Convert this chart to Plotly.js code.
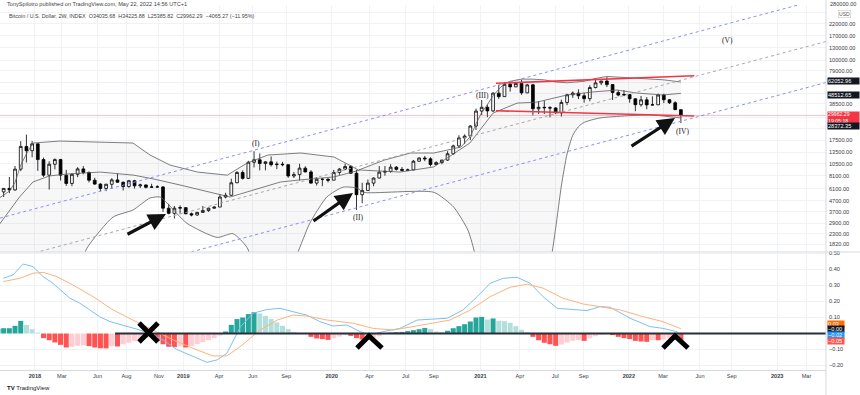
<!DOCTYPE html>
<html><head><meta charset="utf-8">
<script src="https://cdn.plot.ly/plotly-3.0.1.min.js"></script>
<style>html,body{margin:0;padding:0;background:#fff}#chart{width:860px;height:395px}</style>
</head><body><div id="chart"></div>
<script>
// ---------- DATA ----------
const dates=['2017-10-02','2017-10-16','2017-10-30','2017-11-13','2017-11-27','2017-12-11','2017-12-25',
'2018-01-08','2018-01-22','2018-02-05','2018-02-19','2018-03-05','2018-03-19','2018-04-02','2018-04-16','2018-04-30','2018-05-14','2018-05-28','2018-06-11','2018-06-25','2018-07-09','2018-07-23','2018-08-06','2018-08-20','2018-09-03','2018-09-17','2018-10-01','2018-10-15','2018-10-29','2018-11-12','2018-11-26','2018-12-10','2018-12-24',
'2019-01-07','2019-01-21','2019-02-04','2019-02-18','2019-03-04','2019-03-18','2019-04-01','2019-04-15','2019-04-29','2019-05-13','2019-05-27','2019-06-10','2019-06-24','2019-07-08','2019-07-22','2019-08-05','2019-08-19','2019-09-02','2019-09-16','2019-09-30','2019-10-14','2019-10-28','2019-11-11','2019-11-25','2019-12-09','2019-12-23',
'2020-01-06','2020-01-20','2020-02-03','2020-02-17','2020-03-02','2020-03-16','2020-03-30','2020-04-13','2020-04-27','2020-05-11','2020-05-25','2020-06-08','2020-06-22','2020-07-06','2020-07-20','2020-08-03','2020-08-17','2020-08-31','2020-09-14','2020-09-28','2020-10-12','2020-10-26','2020-11-09','2020-11-23','2020-12-07','2020-12-21',
'2021-01-04','2021-01-18','2021-02-01','2021-02-15','2021-03-01','2021-03-15','2021-03-29','2021-04-12','2021-04-26','2021-05-10','2021-05-24','2021-06-07','2021-06-21','2021-07-05','2021-07-19','2021-08-02','2021-08-16','2021-08-30','2021-09-13','2021-09-27','2021-10-11','2021-10-25','2021-11-08','2021-11-22','2021-12-06','2021-12-20',
'2022-01-03','2022-01-17','2022-01-31','2022-02-14','2022-02-28','2022-03-14','2022-03-28','2022-04-11','2022-04-25','2022-05-09'];
const open=[4400,5700,6150,5950,9350,15300,13950,16200,11500,8200,10400,11500,8200,6850,8350,9400,8700,7350,6750,6150,6730,7400,7030,6400,7270,6500,6630,6300,6350,6350,4000,3580,4000,4050,3550,3450,3650,3800,4000,4100,5100,5300,6950,8700,7650,10850,11450,10550,10950,10300,10400,10300,8050,8300,9550,8800,6900,7500,7500,7350,8700,9350,9900,8550,5360,5880,6900,7700,8750,8900,9750,9300,9100,9200,11100,11900,11700,10330,10780,11380,13050,15480,18400,19150,23850,33000,35800,33100,48700,45150,59000,55800,60000,49000,58300,34700,35800,35500,35300,31800,39800,47000,48800,46000,43200,55000,60900,63300,58600,49400,46700,47300,43100,37900,42100,37700,37800,46800,42200,39500,34035.68];
const high=[5850,6200,7890,10000,17170,19800,17250,16300,12000,11100,11800,11700,9200,8500,9750,9980,8880,7750,6900,6800,7680,8500,7150,7400,7410,6820,6700,6800,6580,6480,4400,4200,4250,4100,3640,3700,4200,4050,4150,5450,5600,7600,8950,9100,11200,13800,13150,11100,12300,11000,10950,10350,8800,10500,9950,9150,7850,7700,7700,9200,9600,10500,10200,9200,6950,7470,7800,10000,10000,10400,10000,9780,9470,11400,12100,12450,12100,11100,11450,13800,15900,19500,19900,24300,34800,41950,38000,49700,58400,61800,60700,61200,64900,59600,59600,40900,41300,36700,35900,42300,48100,50500,52900,48800,57800,67000,63700,69000,59300,51900,52100,47600,43500,45800,44700,45400,48200,48200,42900,40800,34225.88];
const low=[4150,5100,5550,5850,8950,10800,12100,9000,7900,6000,9300,7300,6500,6450,7850,8350,7000,6650,5800,5800,6070,6950,5880,6250,6120,6200,6150,6250,6250,3700,3500,3200,3550,3500,3350,3400,3650,3700,3950,4100,4950,5250,6900,7450,7550,9700,9100,9100,9900,9350,9950,7750,7700,7300,8700,6800,6550,6450,7000,7350,8250,9150,8450,3850,4450,5870,6450,7650,8100,8650,9050,8900,9050,9150,11000,11100,9900,10200,10400,11200,12800,14800,16200,17600,21900,30300,28900,32300,43000,45000,50400,55500,47000,48700,30000,31000,31000,28800,31000,29300,37500,44000,42800,39600,40800,54000,58000,55600,42000,45500,45600,39600,32900,36300,34300,37200,37600,39200,38500,33700,25385.82];
const close=[5700,6150,5950,9350,15300,13950,16200,11500,8200,10400,11500,8200,6850,8350,9400,8700,7350,6750,6150,6730,7400,7030,6400,7270,6500,6630,6300,6350,6350,4000,3580,4000,4050,3550,3450,3650,3800,4000,4100,5100,5300,6950,8700,7650,10850,11450,10550,10950,10300,10400,10300,8050,8300,9550,8800,6900,7500,7500,7350,8700,9350,9900,8550,5360,5880,6900,7700,8750,8900,9750,9300,9100,9200,11100,11900,11700,10330,10780,11380,13050,15480,18400,19150,23850,33000,35800,33100,48700,45150,59000,55800,60000,49000,58300,34700,35800,35500,35300,31800,39800,47000,48800,46000,43200,55000,60900,63300,58600,49400,46700,47300,43100,37900,42100,37700,37800,46800,42200,39500,34027.56,29962.29];

// Bollinger-style bands
const upperDates=['2017-10-02','2017-10-30','2017-11-13','2017-11-27','2017-12-11','2017-12-27','2018-03-03','2018-06-11','2018-08-30','2018-10-11','2018-11-29','2019-02-05','2019-04-19','2019-06-07','2019-07-28','2019-10-17','2020-01-07','2020-03-07','2020-05-10','2020-07-13','2020-09-08','2020-11-14','2020-12-07','2020-12-21','2021-01-04','2021-01-18','2021-02-01','2021-02-15','2021-03-01','2021-03-15','2021-04-12','2021-05-10','2021-06-07','2021-07-05','2021-08-02','2021-09-13','2021-10-11','2021-11-08','2021-12-06','2022-01-03','2022-02-14','2022-03-28','2022-05-09'];
const upperVals=[4900,5800,7000,10200,13000,16480,17200,16820,16480,12700,10220,8770,8200,10670,12700,13270,12160,9170,11390,13270,13270,15100,19000,25000,32000,38000,46000,53000,60000,63000,66000,66000,65000,62000,61000,63000,67000,70000,69000,68000,66000,65000,62052.96];
const middleDates=['2017-10-02','2017-11-24','2017-12-27','2018-02-05','2018-03-19','2018-06-11','2018-09-01','2018-10-21','2018-12-24','2019-03-17','2019-04-26','2019-06-07','2019-08-28','2019-10-13','2020-01-07','2020-03-11','2020-06-17','2020-09-08','2020-12-06','2021-02-01','2021-04-01','2021-05-20','2021-08-02','2021-10-05','2021-12-03','2022-01-21','2022-03-26','2022-05-09'];
const middleVals=[2700,5100,7070,8050,8400,8770,8200,7530,6620,5580,5100,5700,7070,7380,7900,9170,8770,9800,16500,31600,39200,40100,46800,50000,52100,48800,46800,48512.65];
const lowerDates=['2017-10-02','2018-04-10','2018-05-09','2018-07-12','2018-08-30','2018-10-11','2018-11-05','2018-11-22','2019-01-10','2019-03-25','2019-05-03','2019-06-07','2019-07-01','2019-08-15','2019-10-07','2019-11-08','2019-12-20','2020-01-29','2020-03-04','2020-03-19','2020-09-08','2020-10-27','2020-12-01','2020-12-16','2021-01-10','2021-05-20','2021-06-21','2021-07-05','2021-07-19','2021-08-02','2021-08-16','2021-08-30','2021-09-13','2021-10-22','2022-02-22','2022-05-09'];
const lowerVals=[300,900,1683,3300,3845,4990,5100,4470,2880,2120,2300,1700,900,600,1455,2880,5100,6320,6180,5650,5650,4100,2490,1610,600,600,1200,2600,6500,13000,19500,23500,25800,28400,30300,28372.35];

// MACD pane
const hist=[0.03,0.033,0.033,0.048,0.079,0.054,0.027,0.006,-0.029,-0.042,-0.056,-0.071,-0.0875,-0.083,-0.077,-0.075,-0.079,-0.0875,-0.092,-0.093,-0.079,-0.081,-0.067,-0.058,-0.048,-0.038,-0.029,-0.021,-0.046,-0.067,-0.083,-0.085,-0.081,-0.0875,-0.079,-0.067,-0.054,-0.042,-0.029,-0.0125,0.0125,0.054,0.09,0.1,0.121,0.133,0.125,0.11,0.09,0.069,0.048,0.027,0.01,0.002,-0.003,-0.021,-0.031,-0.035,-0.04,-0.029,-0.019,-0.008,-0.015,-0.029,-0.0375,-0.033,-0.025,-0.017,-0.004,0.006,0.008,0.01,0.015,0.021,0.027,0.035,0.027,0.0125,0.008,0.017,0.033,0.046,0.058,0.075,0.1,0.104,0.0875,0.094,0.079,0.077,0.067,0.046,0.023,0.008,-0.021,-0.042,-0.058,-0.067,-0.077,-0.069,-0.056,-0.046,-0.042,-0.046,-0.029,-0.017,-0.006,-0.002,-0.01,-0.021,-0.029,-0.035,-0.046,-0.05,-0.052,-0.042,-0.042,-0.0375,-0.031,-0.0375,-0.05];
const macdDates=['2017-10-15','2017-11-08','2017-12-03','2017-12-27','2018-01-21','2018-02-14','2018-03-28','2018-04-21','2018-05-16','2018-06-09','2018-07-05','2018-08-06','2018-09-16','2018-10-11','2018-11-12','2018-12-16','2019-01-25','2019-02-28','2019-03-25','2019-04-18','2019-05-21','2019-06-21','2019-07-26','2019-08-27','2019-09-28','2019-11-01','2019-12-03','2020-01-04','2020-02-08','2020-03-11','2020-04-04','2020-05-06','2020-06-17','2020-07-29','2020-08-30','2020-10-11','2020-11-19','2020-12-24','2021-01-25','2021-02-26','2021-04-01','2021-05-03','2021-06-04','2021-07-09','2021-08-10','2021-09-20','2021-10-22','2021-11-16','2022-01-04','2022-02-22','2022-03-26','2022-04-30','2022-05-09'];
const macdVals=[0.345,0.366,0.434,0.418,0.355,0.314,0.22,0.19,0.147,0.105,0.074,0.053,0.022,0.0,-0.04,-0.10,-0.145,-0.18,-0.165,-0.124,0.04,0.126,0.15,0.157,0.136,0.115,0.074,0.047,0.053,0.011,-0.01,0.011,0.032,0.084,0.089,0.095,0.147,0.23,0.314,0.345,0.351,0.314,0.23,0.157,0.151,0.143,0.168,0.164,0.095,0.043,0.032,0.011,-0.02];
const signalDates=['2017-10-15','2017-11-25','2017-12-27','2018-01-21','2018-02-24','2018-04-04','2018-05-24','2018-07-12','2018-08-30','2018-10-18','2018-12-07','2019-01-25','2019-03-15','2019-04-18','2019-05-21','2019-07-09','2019-08-20','2019-09-28','2019-11-01','2019-12-21','2020-02-23','2020-04-12','2020-05-31','2020-07-19','2020-08-30','2020-10-18','2020-12-07','2021-01-25','2021-03-15','2021-04-26','2021-06-04','2021-07-23','2021-09-11','2021-10-22','2021-12-11','2022-02-05','2022-03-26','2022-05-09'];
const signalVals=[0.324,0.345,0.376,0.382,0.355,0.303,0.23,0.147,0.084,0.022,-0.04,-0.093,-0.14,-0.14,-0.082,0.022,0.084,0.115,0.109,0.084,0.064,0.032,0.022,0.043,0.064,0.084,0.147,0.23,0.289,0.308,0.283,0.22,0.184,0.168,0.147,0.105,0.074,0.03];

// Drawings
const channelDates=['2017-10-07','2023-05-01'];
const channelUpper=[3228,388700];
const channelMid=[1242,149500];
const channelLower=[511,61340];
const boxDates=['2021-02-08','2022-06-11'];
const boxTop=[60300,71100];
const boxBottom=[33260,29650];
const zeroLineDates=['2018-07-17','2023-05-01'];
const lastPrice=29962.29;

const xTickVals=['2018-01-01','2018-03-08','2018-06-04','2018-08-14','2018-11-02','2019-01-01','2019-03-30','2019-06-21','2019-09-11','2020-01-01','2020-04-03','2020-07-01','2020-09-08','2021-01-01','2021-04-08','2021-07-04','2021-09-12','2022-01-01','2022-03-26','2022-06-25','2022-09-11','2023-01-01','2023-03-14'];
const xTickText=['<b>2018</b>','Mar','Jun','Aug','Nov','<b>2019</b>','Apr','Jun','Sep','<b>2020</b>','Apr','Jul','Sep','<b>2021</b>','Apr','Jul','Sep','<b>2022</b>','Mar','Jun','Sep','<b>2023</b>','Mar'];
const yTickVals=[1820,2300,2900,3700,4700,6100,8100,10500,13500,17500,22500,29000,38500,48500,62000,79000,100000,130000,170000,220000,280000];
const yTickShown=[1820,2300,2900,3700,4700,6100,8100,10500,13500,17500,38500,79000,100000,130000,170000,220000];
const macdTickVals=[-0.2,-0.1,0.1,0.2,0.3,0.4,0.5];

// ---------- HELPERS ----------
const PW=826, PB=370, PH=365;
const px=x=>x/PW, py=y=>(PB-y)/PH;
const FONT='Liberation Sans, Arial, sans-serif';

const histColors=hist.map((v,i)=>{const p=i?hist[i-1]:0;
  if(v>=0) return v>=p?'#26a69a':'#b2dfdb';
  return v<=p?'#ff5252':'#ffcdd2';});

const traces=[
 {x:upperDates,y:upperVals,type:'scatter',mode:'lines',line:{color:'#5d5d5d',width:0.8},hoverinfo:'skip',xaxis:'x',yaxis:'y'},
 {x:lowerDates,y:lowerVals,type:'scatter',mode:'lines',line:{color:'#5d5d5d',width:0.8,shape:'spline',smoothing:0.6},fill:'tonexty',fillcolor:'rgba(0,0,0,0.03)',hoverinfo:'skip',xaxis:'x',yaxis:'y'},
 {x:middleDates,y:middleVals,type:'scatter',mode:'lines',line:{color:'#5d5d5d',width:0.8},hoverinfo:'skip',xaxis:'x',yaxis:'y'},
 {x:channelDates,y:channelUpper,type:'scatter',mode:'lines',line:{color:'#8c8ff0',width:1,dash:'dot'},hoverinfo:'skip',yaxis:'y'},
 {x:channelDates,y:channelMid,type:'scatter',mode:'lines',line:{color:'#a8a8a8',width:1,dash:'dot'},hoverinfo:'skip',yaxis:'y'},
 {x:channelDates,y:channelLower,type:'scatter',mode:'lines',line:{color:'#8c8ff0',width:1,dash:'dot'},hoverinfo:'skip',yaxis:'y'},
 {x:[channelDates[0],channelDates[1]],y:[lastPrice,lastPrice],type:'scatter',mode:'lines',line:{color:'rgba(242,54,69,0.3)',width:1},hoverinfo:'skip',yaxis:'y'},
 {x:boxDates,y:boxTop,type:'scatter',mode:'lines',line:{color:'#f23645',width:1.6},hoverinfo:'skip',yaxis:'y'},
 {x:boxDates,y:boxBottom,type:'scatter',mode:'lines',line:{color:'#f23645',width:1.6},hoverinfo:'skip',yaxis:'y'},
 {x:dates,open:open,high:high,low:low,close:close,type:'candlestick',xaxis:'x',yaxis:'y',whiskerwidth:0,
  increasing:{line:{color:'#000',width:0.8},fillcolor:'#fff'},decreasing:{line:{color:'#000',width:0.8},fillcolor:'#000'},hoverinfo:'skip'},
 {x:dates,y:hist,type:'bar',marker:{color:histColors,line:{width:0}},xaxis:'x',yaxis:'y2',hoverinfo:'skip'},
 {x:macdDates,y:macdVals,type:'scatter',mode:'lines',line:{color:'#7cc0f5',width:1},xaxis:'x',yaxis:'y2',hoverinfo:'skip'},
 {x:signalDates,y:signalVals,type:'scatter',mode:'lines',line:{color:'#ffb27a',width:1},xaxis:'x',yaxis:'y2',hoverinfo:'skip'},
 {x:zeroLineDates,y:[0,0],type:'scatter',mode:'lines',line:{color:'#2a2e39',width:2},xaxis:'x',yaxis:'y2',hoverinfo:'skip'}
];

const tf={family:FONT,size:5.6,color:'#3a3e48'};
function box(text,yPix,bg,h,w,size){return {xref:'paper',yref:'paper',x:1,y:py(yPix),xanchor:'left',yanchor:'middle',text:text,showarrow:false,
  font:{family:FONT,size:size||5.6,color:'#fff'},bgcolor:bg,borderpad:0,height:h||6,width:w||31,align:'left',xshift:0.5};}
function lbl(text,xp,yp,size){return {xref:'paper',yref:'paper',x:px(xp),y:py(yp),text:text,showarrow:false,xanchor:'center',yanchor:'middle',
  font:{family:'Liberation Serif, DejaVu Serif, serif',size:size||7.5,color:'#222'}};}
function arrow(hx,hy,tx,ty){return {xref:'paper',yref:'paper',x:px(hx),y:py(hy),ax:tx-hx,ay:ty-hy,axref:'pixel',ayref:'pixel',showarrow:true,
  arrowhead:2,arrowsize:1.1,arrowwidth:3.2,arrowcolor:'#111',text:''};}

const annotations=[
 {xref:'paper',yref:'paper',x:px(5),y:py(4.5),xanchor:'left',yanchor:'middle',showarrow:false,text:'TonySpilotro published on TradingView.com, May 22, 2022 14:56 UTC+1',font:{family:FONT,size:5.6,color:'#444'}},
 {xref:'paper',yref:'paper',x:px(7),y:py(16),xanchor:'left',yanchor:'middle',showarrow:false,text:'Bitcoin / U.S. Dollar, 2W, INDEX  O34035.68  H34225.88  L25385.82  C29962.29  −4065.27 (−11.95%)',font:{family:FONT,size:5.4,color:'#444'}},
 {xref:'paper',yref:'paper',x:px(5),y:py(388),xanchor:'left',yanchor:'middle',showarrow:false,text:'<b>TV</b> TradingView',font:{family:FONT,size:6,color:'#131722'}},
 {xref:'paper',yref:'paper',x:1,y:py(4),xanchor:'left',yanchor:'middle',showarrow:false,text:'280000.00',font:tf,xshift:2},
 {xref:'paper',yref:'paper',x:px(838),y:py(14),xanchor:'left',yanchor:'middle',showarrow:false,text:'USD',font:{family:FONT,size:5,color:'#555'},bgcolor:'#fff',bordercolor:'#c8c8c8',borderwidth:0.6,borderpad:0.5},
 box('62052.96',80.5,'#131722'),
 box('48512.65',94.5,'#131722'),
 box('29962.29<br>19:05:18',117.2,'#f23645',11,31,5.2),
 box('28372.35',126,'#131722'),
 box('0.03',323.5,'#ff6d00',5.6,16),
 box('−0.00',329.3,'#131722',5.6,16),
 box('−0.02',335.1,'#2196f3',5.6,16),
 box('−0.05',340.9,'#ff5252',5.6,16),
 lbl('(I)',256,143),lbl('(II)',358,217),lbl('(III)',482,95),lbl('(IV)',682,131),lbl('(V)',727,40),
 arrow(166,214,126,235),arrow(353,193,312,222),arrow(675,118,630,147)
];

const shapes=[
 {type:'line',xref:'paper',yref:'paper',x0:0,x1:860/PW,y0:py(252),y1:py(252),line:{color:'#d6d9e0',width:1}},
 {type:'line',xref:'paper',yref:'paper',x0:1,x1:1,y0:py(395),y1:py(0),line:{color:'#d6d9e0',width:1}},
 {type:'path',xref:'paper',yref:'paper',path:`M${px(139)},${py(323)} L${px(158)},${py(342)} M${px(139)},${py(342)} L${px(158)},${py(323)}`,line:{color:'#000',width:5}},
 {type:'path',xref:'paper',yref:'paper',path:`M${px(357)},${py(348)} L${px(369)},${py(336)} L${px(382)},${py(348)}`,line:{color:'#000',width:5}},
 {type:'path',xref:'paper',yref:'paper',path:`M${px(663)},${py(348)} L${px(675)},${py(336)} L${px(688)},${py(348)}`,line:{color:'#000',width:5}}
];

const layout={
 width:860,height:395,margin:{l:0,r:34,t:5,b:25},paper_bgcolor:'#fff',plot_bgcolor:'#fff',showlegend:false,bargap:0.12,
 font:{family:FONT},
 xaxis:{type:'date',range:['2017-10-07','2023-05-01'],anchor:'y2',tickvals:xTickVals,ticktext:xTickText,tickfont:tf,
  showgrid:true,gridcolor:'#f1f2f5',gridwidth:1,showline:true,linecolor:'#d6d9e0',ticks:'',rangeslider:{visible:false},fixedrange:true,zeroline:false},
 yaxis:{type:'log',range:[3.189,5.519],domain:[py(252),1],side:'right',anchor:'x',tickvals:yTickVals,
  ticktext:yTickVals.map(v=>yTickShown.includes(v)?v.toFixed(2):''),tickfont:tf,showgrid:true,gridcolor:'#f1f2f5',zeroline:false,ticks:'',fixedrange:true,ticklabelstandoff:2},
 yaxis2:{range:[-0.228,0.509],domain:[0,py(252)],side:'right',anchor:'x',tickvals:macdTickVals,
  ticktext:macdTickVals.map(v=>(v<0?'−':'')+Math.abs(v).toFixed(2)),tickfont:tf,showgrid:true,gridcolor:'#f1f2f5',zeroline:false,ticks:'',fixedrange:true,ticklabelstandoff:2},
 annotations:annotations,shapes:shapes
};
Plotly.newPlot('chart',traces,layout,{staticPlot:true,displayModeBar:false});
</script></body></html>
